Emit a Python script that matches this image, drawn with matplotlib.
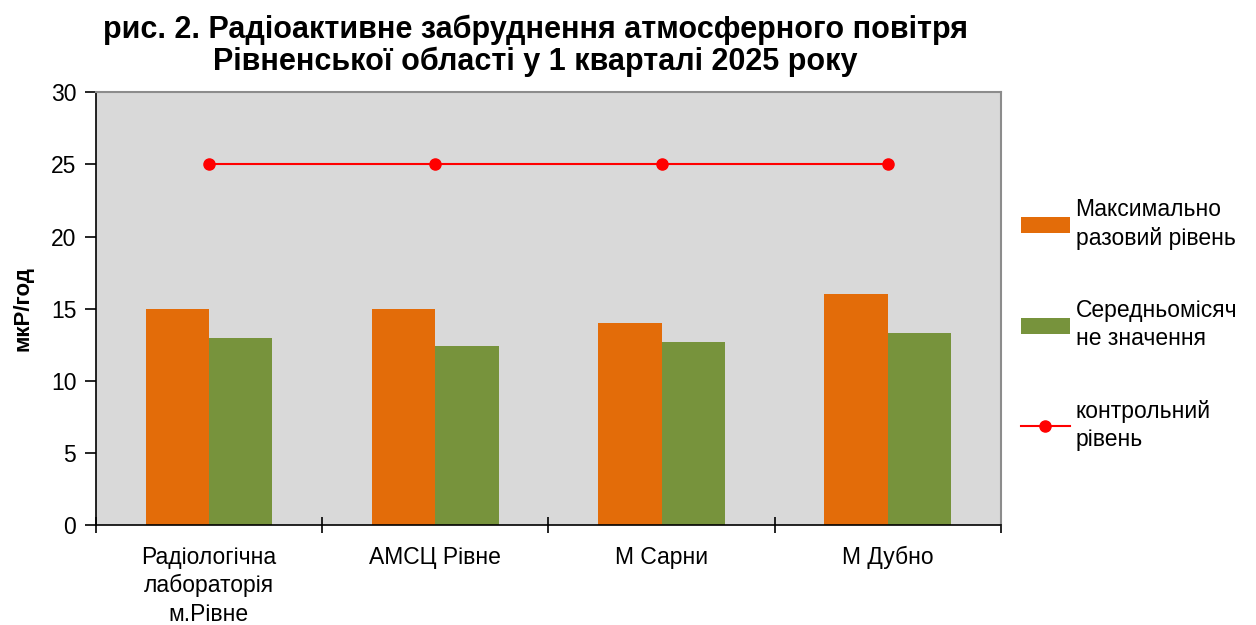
import numpy as np
import matplotlib.pyplot as plt

plt.rcParams['font.family'] = ['Liberation Sans', 'DejaVu Sans']

categories = ['Радіологічна\nлабораторія\nм.Рівне', 'АМСЦ Рівне', 'М Сарни', 'М Дубно']
max_level = [15.0, 15.0, 14.0, 16.0]
mean_level = [13.0, 12.4, 12.7, 13.3]
control_level = [25, 25, 25, 25]

x = np.arange(len(categories))
w = 0.28
fs = 16.5

fig = plt.figure(figsize=(12.56, 6.25), dpi=100)
ax = fig.add_axes([0.0762, 0.16, 0.7208, 0.6923])
ax.set_facecolor('#D9D9D9')

b1 = ax.bar(x - w / 2, max_level, w, color='#E36C09', label='Максимально\nразовий рівень', zorder=2)
b2 = ax.bar(x + w / 2, mean_level, w, color='#77933C', label='Середньомісяч\nне значення', zorder=2)
ln, = ax.plot(x, control_level, color='red', lw=1.5, marker='o', ms=8, label='контрольний\nрівень', zorder=3)

ax.set_xlim(-0.5, 3.5)
ax.set_ylim(0, 30)
ax.set_yticks(range(0, 31, 5))
ax.set_xticks(x)
ax.set_xticklabels(categories, fontsize=fs, linespacing=1.3)
ax.set_xticks(np.arange(-0.5, 4, 1), minor=True)
ax.tick_params(axis='x', which='major', length=0, pad=15)
ax.tick_params(axis='x', which='minor', direction='inout', length=11, width=1.2)
ax.tick_params(axis='y', direction='out', length=8, width=1.2, labelsize=fs, pad=6)

for side in ['left', 'bottom']:
    ax.spines[side].set_color('black')
    ax.spines[side].set_linewidth(1.2)
for side in ['top', 'right']:
    ax.spines[side].set_color('#8C8C8C')
    ax.spines[side].set_linewidth(1.5)

ax.set_ylabel('мкР/год', fontsize=16, fontweight='bold')
ax.yaxis.set_label_coords(-0.069, 0.5)

fig.text(0.426, 0.926, 'рис. 2. Радіоактивне забруднення атмосферного повітря\nРівненської області у 1 кварталі 2025 року',
         ha='center', va='center', fontsize=22, fontweight='bold', linespacing=1.08)

leg = ax.legend([b1, b2, ln], [b1.get_label(), b2.get_label(), ln.get_label()],
                loc='upper left', bbox_to_anchor=(1.0, 0.80), frameon=False, fontsize=fs,
                labelspacing=2.15, handlelength=2.15, handletextpad=0.25, borderaxespad=0.45)
for t in leg.get_texts():
    t.set_linespacing(1.3)

fig.savefig('out.png', dpi=100)
